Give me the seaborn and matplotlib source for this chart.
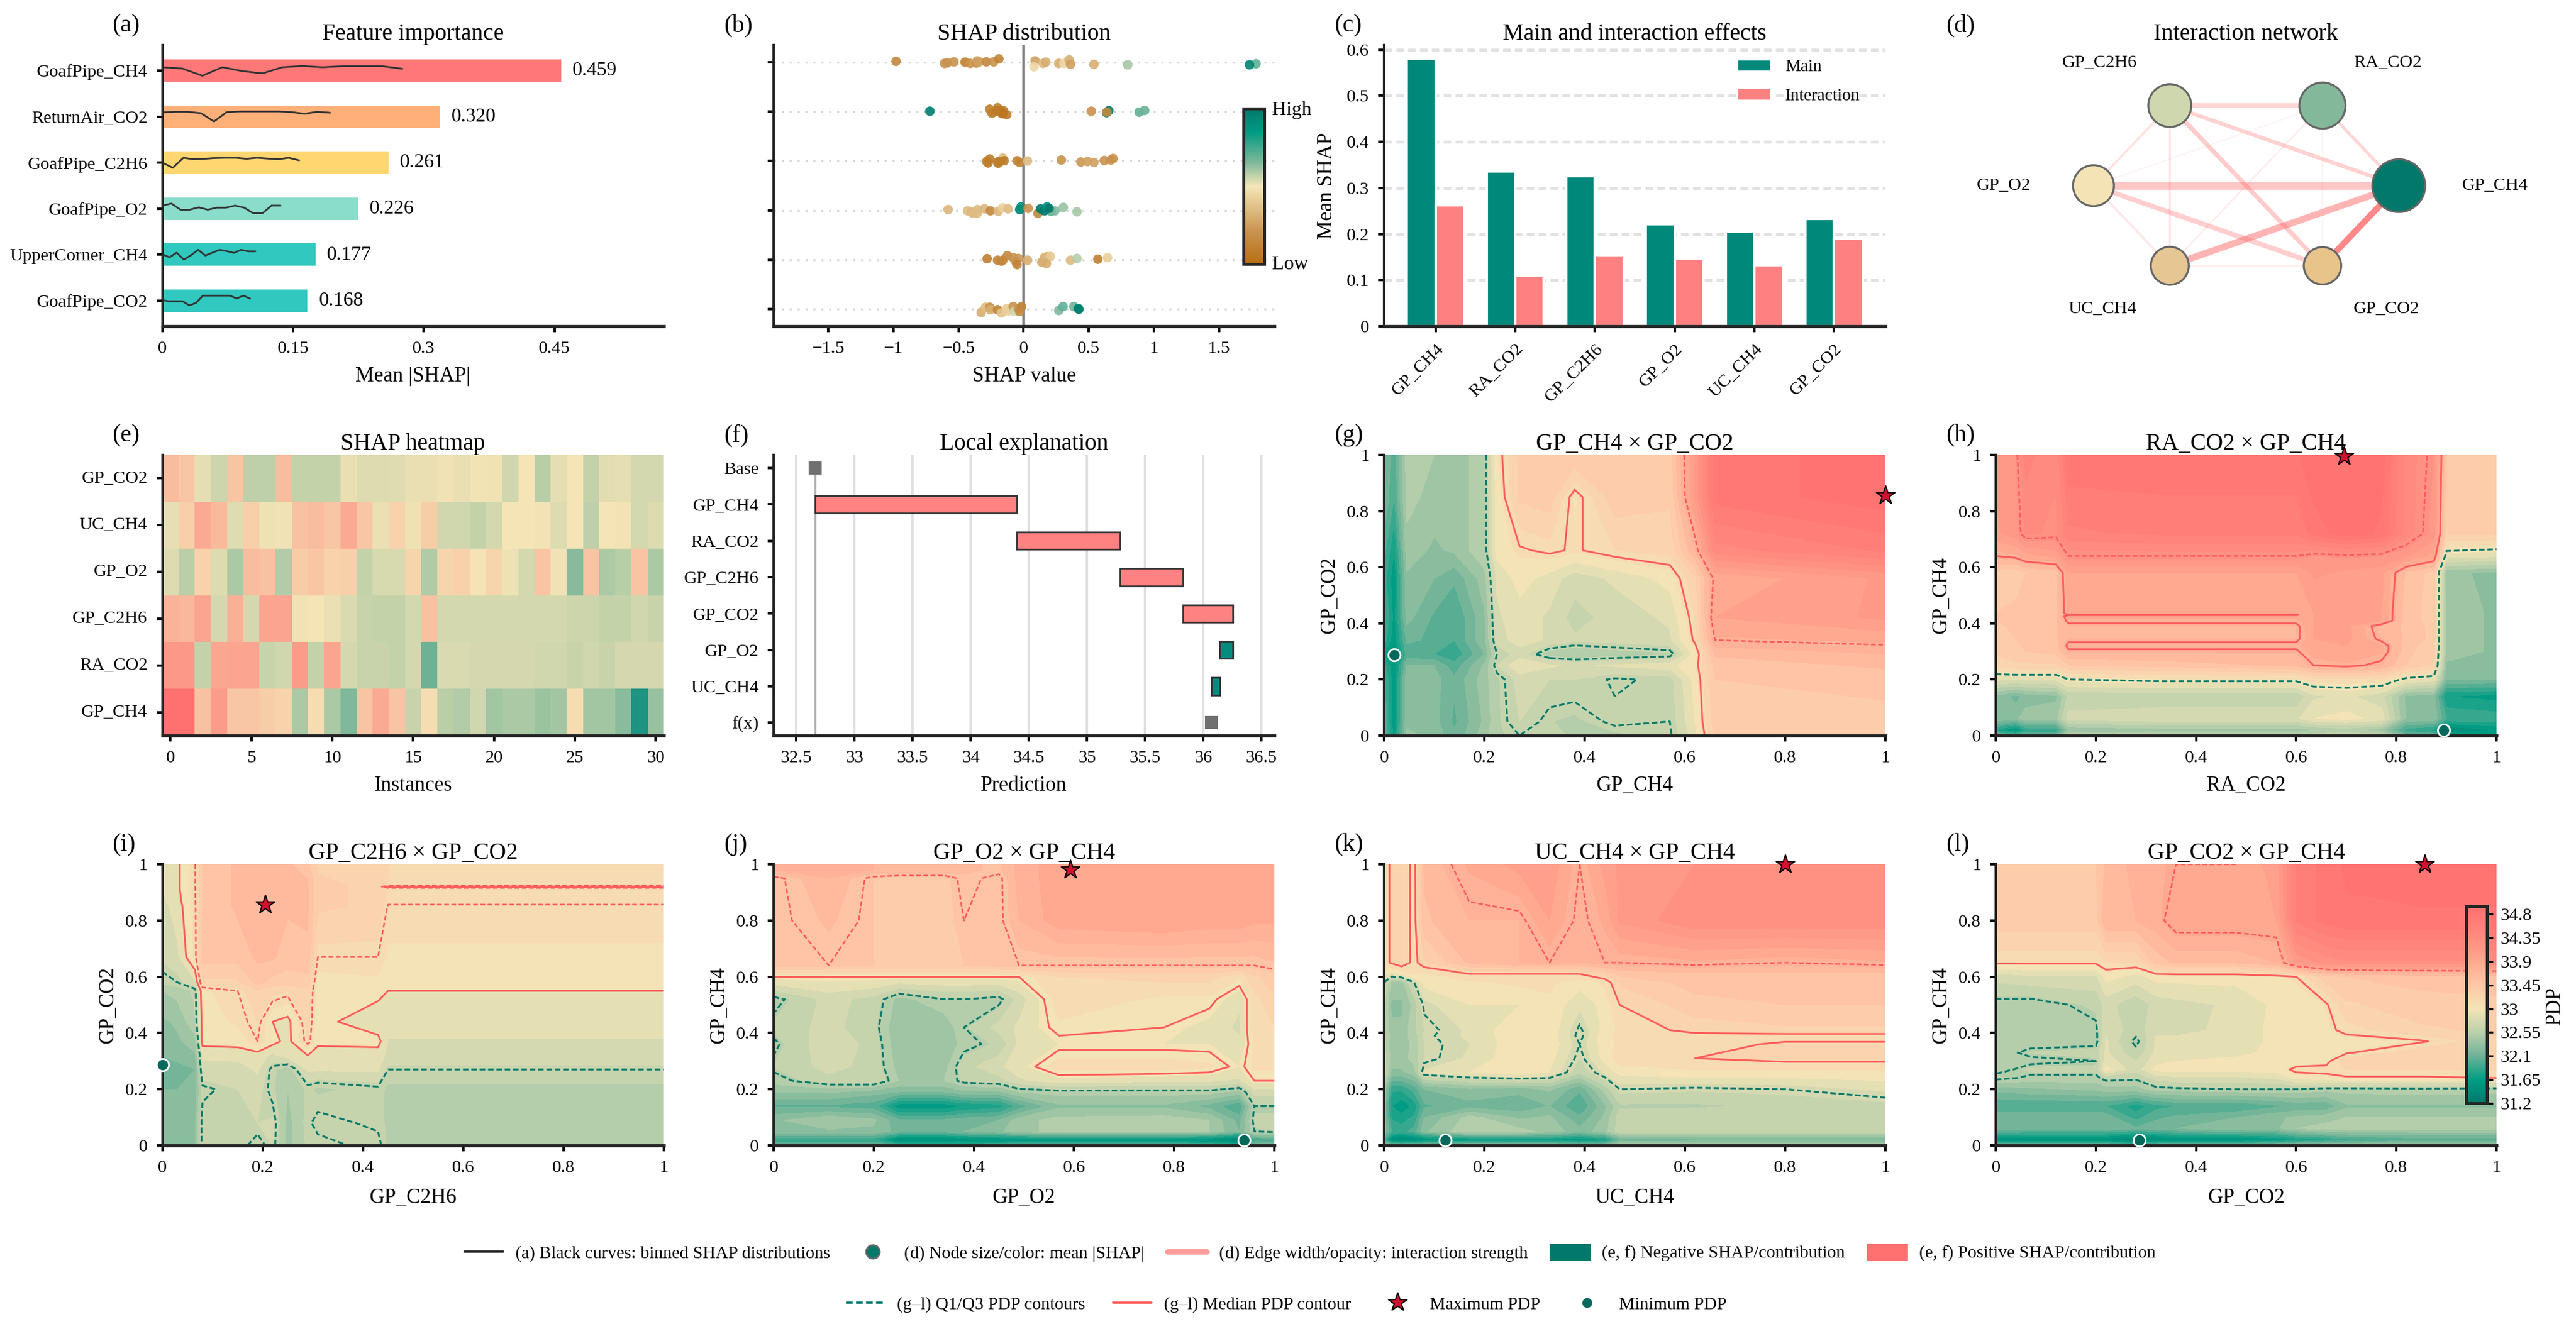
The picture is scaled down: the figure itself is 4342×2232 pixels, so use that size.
import numpy as np
import pandas as pd
import matplotlib
matplotlib.use("Agg")
import matplotlib.pyplot as plt
import seaborn as sns
from matplotlib.colors import LinearSegmentedColormap, Normalize
from matplotlib.cm import ScalarMappable
from matplotlib.lines import Line2D
from matplotlib.patches import Patch

# ---- panel a
full_names = ["GoafPipe_CH4", "ReturnAir_CO2", "GoafPipe_C2H6", "GoafPipe_O2", "UpperCorner_CH4", "GoafPipe_CO2"]
importance = [0.459, 0.320, 0.261, 0.226, 0.177, 0.168]
imp_colors = ["#FF7878", "#FFAF78", "#FFD670", "#8ADCCB", "#30C8BF", "#30C8BF"]
curve_ends = [0.2755, 0.1926, 0.157, 0.1357, 0.1068, 0.1008]
curves = [
    [-.073, -.045, .112, -.073, .011, .061, -.073, -.10, -.073, -.095, -.095, -.095, -.039],
    [-.095, -.106, -.106, -.073, .106, -.10, -.112, -.112, -.112, -.112, -.10, -.061, -.106, -.084],
    [0, .112, -.106, -.073, -.084, -.10, -.106, -.106, -.084, -.106, -.089, -.073, -.106, -.05],
    [-.067, -.112, .022, .022, -.028, .022, -.022, -.022, -.067, -.022, .10, .10, -.067, -.067],
    [-.011, .056, -.045, .106, .011, -.106, .017, -.045, -.106, -.078, -.039, -.106, -.073, -.073],
    [-.011, .011, .011, .011, .10, .045, -.112, -.112, -.112, -.112, -.112, -.05, -.112, -.045],
]

# ---- panel b: shap value, vertical jitter, colour value for each row
shap_x = [
    [-.98, -.607, -.585, -.535, -.45, -.41, -.363, -.356, -.34, -.286, -.23, -.19, .088, .08, .15, .17, .27, .31, .35, .36, .54, .80, 1.785, 1.735],
    [-.72, -.26, -.243, -.2, -.23, -.185, -.17, -.155, -.13, -.21, -.16, .52, .888, .93, .654, .637, .64],
    [-.283, -.26, -.272, -.2, -.16, -.18, -.15, -.195, -.05, -.03, .03, .29, .44, .49, .54, .62, .67, .687],
    [-.58, -.43, -.4, -.355, -.39, -.355, -.3, -.255, -.195, -.16, -.12, -.03, -.02, .035, .21, .24, .305, .41, .11, .13, .16, .18, .195],
    [-.28, -.2, -.17, -.16, -.125, -.08, -.04, -.06, -.05, .03, .14, .16, .18, .205, .175, .36, .41, .57, .645],
    [-.326, -.293, -.26, -.256, -.2, -.17, -.13, -.12, -.08, -.07, -.04, -.015, -.03, .27, .303, .386, .42, .425],
]
shap_dy = [
    [-.02, .02, .01, -.01, -.005, .02, .015, -.03, -.01, -.01, -.01, -.07, -.03, .09, .02, -.005, .02, .02, -.05, .04, .04, .05, .03, .05],
    [-.01, -.05, .03, -.08, .01, -.03, .03, -.02, .06, -.02, .04, -.01, .01, -.025, -.02, .02, .01],
    [.01, -.04, .04, .02, -.06, .01, -.005, .045, -.005, .03, 0, -.02, .02, .01, .03, -.01, -.02, -.05],
    [-.015, .01, .035, -.015, .06, .055, -.03, .01, .02, -.05, -.03, -.015, -.07, -.04, .02, .01, -.06, .03, .06, -.03, .01, -.07, -.04],
    [-.02, .01, .03, .01, -.08, -.04, -.025, .04, .10, .01, .05, -.04, -.06, -.065, .08, .01, -.025, -.01, -.04],
    [.07, -.035, -.035, .015, .015, .08, -.01, .04, -.05, .05, -.01, -.05, .05, .03, -.05, -.05, -.01, .005],
]
shap_c = [
    [.15, .2, .2, .2, .1, .2, .2, .25, .25, .15, .2, .12, .25, .45, .35, .3, .3, .45, .3, .25, .3, .6, .7, .95],
    [.97, .1, .1, .1, .1, .05, .08, .06, .08, .07, .05, .2, .7, .68, 1, .9, .15],
    [.08, .08, .08, .08, .35, .08, .08, .08, .12, .12, .35, .2, .22, .25, .25, .2, .2, .2],
    [.33, .35, .33, .35, .35, .35, .33, .15, .33, .42, .35, .95, .9, .2, .7, .65, .62, .6, .15, 1, 1, .88, 1],
    [.1, .12, .12, .15, .15, .2, .22, .2, .12, .3, .28, .3, .33, .4, .3, .35, .58, .1, .42],
    [.3, .35, .2, .3, .12, .38, .42, .42, .2, .55, .2, .12, .15, .65, .7, .68, .95, .97],
]
shap_stops = ["#B86F14", "#C8924D", "#F5E6B8", "#80B89B", "#009B82", "#00796B"]
shap_pos = [0, .2, .5, .65, .85, 1]

# ---- panel c
short_names = ["GP_CH4", "RA_CO2", "GP_C2H6", "GP_O2", "UC_CH4", "GP_CO2"]
main_eff = [.58, .336, .325, .221, .205, .233]
inter_eff = [.263, .11, .155, .147, .132, .19]

# ---- panel d
net_names = ["GP_CH4", "RA_CO2", "GP_C2H6", "GP_O2", "UC_CH4", "GP_CO2"]
net_angles = [0, 60, 120, 180, 240, 300]
net_importance = [.459, .320, .261, .226, .177, .168]
net_colors = ["#00796B", "#84B89B", "#CFD7AE", "#F4E3B5", "#E6C794", "#E6C48A"]
net_label_x = [1.63, .926, -.96, -1.59, -.94, .92]
net_label_y = [.0, 1.33, 1.33, .0, -1.33, -1.33]
edge_a = [0, 0, 0, 0, 0, 1, 1, 1, 1, 2, 2, 2, 3, 3, 4]
edge_b = [3, 5, 4, 2, 1, 2, 3, 4, 5, 3, 4, 5, 4, 5, 5]
edge_w = [3.1, 2.5, 2.7, 1.6, 1.2, 2.0, .5, .6, .5, .9, .8, 1.8, .9, 2.0, .9]
edge_a_op = [.38, .8, .5, .3, .28, .28, .08, .14, .12, .2, .18, .35, .16, .33, .1]

# ---- panel e
heat_rows = ["GP_CO2", "UC_CH4", "GP_O2", "GP_C2H6", "RA_CO2", "GP_CH4"]
heat_vals = [
    [.35, .25, -.07, -.17, .27, -.22, -.22, .35, -.2, -.2, -.2, -.05, -.1, -.1, -.09, -.05, -.05, -.02, -.05, -.01, -.02, -.15, 0, -.25, -.07, 0, -.2, -.08, -.07, -.14, -.14],
    [-.06, .18, .5, .36, -.09, .17, -.03, -.02, .3, .35, .25, .5, .25, -.04, .15, -.03, .2, -.15, -.15, -.2, -.14, 0, 0, -.01, -.1, 0, -.22, 0, -.01, -.14, -.1],
    [-.1, -.24, .15, -.1, -.3, .35, .3, -.27, .2, .25, .15, .17, -.2, -.12, -.12, .13, -.28, .13, .16, .02, .14, -.03, -.14, .28, -.02, -.45, .28, -.3, -.25, .28, -.3],
    [.42, .38, .55, -.13, .45, -.13, .55, .55, -.02, 0, -.04, -.11, -.18, -.2, -.2, -.14, .3, -.14, -.14, -.14, -.14, -.14, -.14, -.14, -.14, -.17, -.17, -.2, -.2, -.15, -.18],
    [.65, .65, -.2, .52, .55, .55, -.18, -.15, .62, -.2, .55, -.13, -.18, -.18, -.2, -.14, -.55, -.11, -.11, -.13, -.13, -.13, -.13, -.15, -.15, -.18, -.15, -.18, -.13, -.13, -.13],
    [1, 1, .3, .62, .25, .25, .2, .15, -.3, .07, -.3, -.48, .28, .5, .28, -.18, .07, -.24, -.27, -.15, -.33, -.3, -.3, -.36, -.33, .07, -.33, -.33, -.44, -.87, -.38],
]

# ---- panel f
wf_names = ["Base", "GP_CH4", "RA_CO2", "GP_C2H6", "GP_CO2", "GP_O2", "UC_CH4", "f(x)"]
wf_base = 32.66
wf_fx = 36.07
wf_start = [32.66, 34.395, 35.285, 35.826, 36.253, 36.144]
wf_end = [34.395, 35.285, 35.826, 36.253, 36.144, 36.073]

g_x = [0, .02, .045, .1, .14, .2, .225, .27, .33, .38, .46, .57, .62, .66, 1]
g_y = [0, .05, .2, .25, .29, .34, .42, .56, .66, .85, 1]
g_z = [
    [32.1, 31.65, 32.35, 32.3, 32.1, 32.4, 32.55, 32.62, 32.62, 32.55, 32.55, 32.6, 32.9, 33.35, 33.35],
    [32.05, 31.6, 32.3, 32.25, 32.05, 32.35, 32.55, 32.7, 32.58, 32.55, 32.65, 32.62, 32.95, 33.4, 33.4],
    [32.0, 31.6, 32.3, 32.25, 32.1, 32.4, 32.55, 32.75, 32.7, 32.7, 32.6, 32.65, 33.0, 33.45, 33.5],
    [31.9, 31.55, 32.2, 32.2, 32.0, 32.35, 32.7, 32.95, 32.85, 32.8, 32.85, 32.9, 33.05, 33.5, 33.6],
    [31.7, 31.45, 32.0, 31.95, 31.85, 32.2, 32.62, 32.75, 32.5, 32.45, 32.5, 32.55, 33.0, 33.6, 33.7],
    [31.9, 31.6, 32.1, 32.05, 31.95, 32.3, 32.75, 32.9, 32.8, 32.72, 32.75, 32.8, 33.15, 33.8, 33.85],
    [32.0, 31.65, 32.25, 32.05, 31.95, 32.3, 32.8, 32.9, 32.8, 32.65, 32.75, 32.85, 33.2, 33.95, 34.1],
    [31.9, 31.6, 32.3, 32.2, 32.1, 32.4, 32.85, 33.0, 32.9, 32.75, 32.85, 33.0, 33.3, 33.85, 34.1],
    [32.0, 31.7, 32.4, 32.3, 32.35, 32.55, 33.0, 33.1, 33.15, 33.1, 33.2, 33.25, 33.7, 34.4, 34.6],
    [32.2, 31.95, 32.5, 32.4, 32.35, 32.55, 33.0, 33.35, 33.4, 33.05, 33.4, 33.35, 34.1, 34.75, 34.9],
    [32.2, 32.0, 32.5, 32.45, 32.35, 32.55, 33.05, 33.35, 33.35, 33.45, 33.35, 33.4, 34.1, 34.75, 34.9],
]
h_x = [0, .04, .06, .12, .145, .33, .6, .635, .7, .77, .82, .875, .9, 1]
h_y = [0, .02, .06, .14, .2, .25, .3, .32, .345, .39, .41, .425, .43, .435, .58, .64, .72, 1]
h_z = [
    [32.1, 32.0, 32.1, 32.1, 32.55, 32.55, 32.55, 32.65, 32.65, 32.65, 32.1, 32.05, 31.7, 31.7],
    [31.8, 31.55, 31.85, 31.85, 32.35, 32.4, 32.4, 32.45, 32.5, 32.4, 31.9, 31.8, 31.4, 31.6],
    [32.3, 32.3, 32.4, 32.4, 32.75, 32.8, 32.8, 32.95, 33.0, 32.9, 32.3, 32.3, 31.95, 31.9],
    [32.3, 32.15, 32.25, 32.3, 32.6, 32.6, 32.6, 32.8, 32.85, 32.75, 32.3, 32.25, 31.7, 31.65],
    [32.85, 32.85, 32.85, 32.85, 33.0, 33.05, 33.05, 33.15, 33.15, 33.15, 32.95, 32.9, 32.2, 32.2],
    [33.25, 33.3, 33.3, 33.3, 33.45, 33.5, 33.6, 33.75, 33.8, 33.7, 33.45, 33.3, 32.3, 32.25],
    [33.35, 33.4, 33.45, 33.5, 33.72, 33.72, 33.72, 33.9, 33.95, 33.85, 33.5, 33.35, 32.4, 32.3],
    [33.38, 33.42, 33.48, 33.52, 33.8, 33.8, 33.8, 33.9, 33.95, 33.85, 33.5, 33.38, 32.4, 32.3],
    [33.4, 33.45, 33.5, 33.55, 33.7, 33.7, 33.7, 33.95, 34.0, 33.7, 33.55, 33.4, 32.4, 32.3],
    [33.42, 33.48, 33.55, 33.55, 33.7, 33.7, 33.7, 33.95, 34.0, 33.65, 33.55, 33.4, 32.4, 32.3],
    [33.45, 33.5, 33.55, 33.55, 33.8, 33.8, 33.8, 33.95, 34.0, 33.95, 33.5, 33.4, 32.4, 32.3],
    [33.45, 33.5, 33.55, 33.55, 33.85, 33.85, 33.85, 33.95, 34.0, 33.95, 33.5, 33.4, 32.4, 32.3],
    [33.45, 33.5, 33.55, 33.55, 33.72, 33.72, 33.72, 33.95, 34.0, 33.95, 33.5, 33.4, 32.4, 32.3],
    [33.45, 33.5, 33.55, 33.55, 33.85, 33.85, 33.85, 33.95, 34.0, 33.95, 33.5, 33.4, 32.4, 32.3],
    [33.4, 33.35, 33.45, 33.5, 33.95, 33.95, 33.95, 34.1, 34.05, 34.0, 33.55, 33.4, 32.35, 32.3],
    [33.75, 33.8, 33.9, 34.0, 34.25, 34.25, 34.25, 34.2, 34.22, 34.2, 34.1, 33.9, 32.9, 32.85],
    [34.05, 34.15, 34.35, 34.3, 34.55, 34.6, 34.6, 34.75, 34.9, 34.8, 34.4, 34.15, 33.35, 33.35],
    [34.1, 34.2, 34.5, 34.35, 34.8, 34.8, 34.8, 34.95, 34.95, 34.9, 34.4, 34.2, 33.45, 33.45],
]
i_x = [0, .03, .065, .08, .15, .19, .22, .25, .29, .31, .43, .45, 1]
i_y = [0, .08, .2, .27, .32, .37, .44, .55, .58, .67, .85, .87, .915, .92, .925, 1]
i_z = [
    [32.25, 32.25, 32.3, 32.7, 32.7, 32.6, 32.7, 32.4, 32.6, 32.6, 32.7, 32.55, 32.55],
    [32.25, 32.25, 32.3, 32.7, 32.7, 32.7, 32.72, 32.4, 32.62, 32.7, 32.62, 32.55, 32.55],
    [32.2, 32.2, 32.25, 32.62, 32.7, 32.75, 32.6, 32.45, 32.6, 32.55, 32.62, 32.55, 32.55],
    [32.15, 32.15, 32.2, 32.78, 32.75, 32.85, 32.6, 32.5, 32.85, 32.85, 32.85, 32.65, 32.65],
    [32.2, 32.25, 32.3, 32.85, 32.88, 32.88, 32.8, 32.9, 32.95, 32.85, 32.88, 32.8, 32.8],
    [32.3, 32.3, 32.4, 33.0, 33.0, 33.15, 33.0, 32.9, 33.2, 33.0, 33.0, 32.82, 32.82],
    [32.3, 32.35, 32.55, 33.0, 33.1, 33.2, 32.95, 32.9, 33.25, 33.0, 32.85, 32.85, 32.85],
    [32.45, 32.5, 32.6, 33.05, 33.15, 33.3, 33.25, 33.2, 33.3, 33.0, 33.0, 32.95, 32.95],
    [32.6, 32.65, 32.8, 33.3, 33.3, 33.5, 33.4, 33.4, 33.4, 33.02, 33.05, 33.05, 33.05],
    [32.72, 32.8, 33.1, 33.5, 33.5, 33.6, 33.6, 33.5, 33.55, 33.15, 33.15, 33.05, 33.05],
    [32.78, 32.88, 33.12, 33.45, 33.6, 33.7, 33.65, 33.6, 33.6, 33.35, 33.3, 33.14, 33.14],
    [32.8, 32.9, 33.13, 33.45, 33.6, 33.7, 33.65, 33.6, 33.6, 33.35, 33.3, 33.17, 33.17],
    [32.82, 32.92, 33.14, 33.45, 33.6, 33.7, 33.65, 33.6, 33.6, 33.35, 33.3, 33.2, 33.2],
    [32.82, 32.92, 33.14, 33.45, 33.6, 33.7, 33.65, 33.6, 33.6, 33.35, 33.3, 32.9, 32.9],
    [32.82, 32.92, 33.14, 33.45, 33.6, 33.7, 33.65, 33.6, 33.6, 33.35, 33.3, 33.2, 33.2],
    [32.85, 32.92, 33.14, 33.45, 33.6, 33.7, 33.7, 33.6, 33.5, 33.3, 33.25, 33.2, 33.2],
]
j_x = [0, .11, .2, .25, .34, .38, .45, .49, .57, .78, .87, .93, .96, 1]
j_y = [0, .02, .05, .09, .14, .19, .23, .28, .36, .42, .52, .6, .64, .8, .95, .98, 1]
j_z = [
    [32.1, 32.1, 32.1, 31.95, 31.95, 31.95, 32.0, 32.1, 32.1, 32.1, 32.0, 31.9, 32.2, 32.3],
    [31.85, 31.85, 31.85, 31.45, 31.45, 31.5, 31.5, 31.55, 31.55, 31.55, 31.5, 31.3, 31.9, 31.95],
    [32.3, 32.3, 32.3, 32.15, 32.15, 32.2, 32.3, 32.4, 32.5, 32.5, 32.45, 32.2, 32.55, 32.6],
    [32.3, 32.45, 32.35, 32.1, 32.1, 32.15, 32.2, 32.4, 32.5, 32.52, 32.45, 32.15, 32.6, 32.6],
    [32.05, 32.05, 32.0, 31.6, 31.6, 31.7, 31.75, 32.0, 32.3, 32.3, 32.15, 31.95, 32.55, 32.55],
    [32.35, 32.35, 32.25, 32.2, 32.2, 32.3, 32.3, 32.45, 32.5, 32.5, 32.5, 32.4, 32.75, 32.75],
    [32.5, 32.65, 32.7, 32.45, 32.45, 32.6, 32.65, 32.8, 32.9, 32.85, 32.85, 32.8, 33.0, 33.0],
    [32.58, 32.75, 32.65, 32.4, 32.4, 32.65, 32.8, 32.9, 33.15, 33.15, 33.1, 32.95, 33.1, 33.1],
    [32.52, 32.8, 32.65, 32.35, 32.35, 32.5, 32.6, 32.85, 32.95, 32.95, 32.95, 32.85, 33.1, 33.1],
    [32.6, 32.75, 32.6, 32.35, 32.35, 32.55, 32.75, 32.85, 33.05, 33.0, 32.9, 32.8, 33.2, 33.2],
    [32.5, 32.75, 32.65, 32.4, 32.55, 32.55, 32.5, 32.75, 33.15, 33.05, 33.05, 32.85, 33.15, 33.3],
    [33.0, 33.0, 33.0, 33.0, 33.0, 33.0, 33.0, 33.0, 33.2, 33.25, 33.25, 33.1, 33.3, 33.4],
    [33.5, 33.5, 33.45, 33.45, 33.45, 33.45, 33.5, 33.5, 33.5, 33.5, 33.5, 33.5, 33.5, 33.55],
    [33.45, 33.6, 33.45, 33.4, 33.4, 33.5, 33.45, 33.7, 33.9, 33.95, 33.9, 33.9, 33.85, 33.85],
    [33.45, 33.7, 33.45, 33.4, 33.4, 33.55, 33.45, 33.75, 33.9, 33.95, 33.9, 33.9, 33.9, 33.85],
    [33.7, 33.8, 33.7, 33.7, 33.7, 33.6, 33.55, 33.75, 33.9, 33.9, 33.9, 33.9, 33.85, 33.95],
    [33.7, 33.8, 33.7, 33.7, 33.7, 33.6, 33.55, 33.75, 33.9, 33.9, 33.9, 33.9, 33.85, 33.95],
]
k_x = [0, .015, .035, .06, .08, .17, .27, .33, .39, .44, .47, .62, .8, 1]
k_y = [0, .02, .05, .1, .14, .2, .26, .31, .36, .39, .41, .5, .58, .61, .65, .8, 1]
k_z = [
    [32.3, 32.2, 32.2, 32.2, 32.3, 32.3, 32.3, 32.3, 32.2, 32.25, 32.5, 32.5, 32.5, 32.5],
    [32.0, 31.45, 31.4, 31.45, 31.5, 31.6, 31.65, 31.65, 31.6, 31.7, 32.1, 32.15, 32.15, 32.15],
    [32.3, 31.95, 31.9, 32.0, 32.3, 32.55, 32.5, 32.4, 32.25, 32.4, 32.65, 32.65, 32.65, 32.65],
    [32.3, 31.8, 31.75, 31.85, 32.2, 32.5, 32.3, 32.35, 32.1, 32.35, 32.65, 32.7, 32.7, 32.7],
    [32.3, 31.7, 31.6, 31.75, 32.05, 32.15, 32.1, 32.2, 31.95, 32.3, 32.55, 32.55, 32.6, 32.65],
    [32.45, 31.85, 31.85, 32.0, 32.2, 32.3, 32.25, 32.35, 32.1, 32.5, 32.75, 32.72, 32.75, 32.85],
    [32.7, 32.3, 32.3, 32.4, 32.85, 32.95, 33.05, 32.95, 32.6, 32.85, 33.0, 33.05, 33.05, 33.05],
    [32.65, 32.4, 32.4, 32.5, 32.7, 32.85, 33.05, 33.0, 32.7, 33.0, 33.15, 33.2, 33.25, 33.25],
    [32.62, 32.35, 32.35, 32.5, 32.7, 32.82, 33.05, 33.05, 32.75, 33.02, 33.1, 33.15, 33.22, 33.22],
    [32.62, 32.4, 32.4, 32.5, 32.72, 32.85, 33.05, 33.05, 32.7, 33.05, 33.1, 33.15, 33.15, 33.15],
    [32.6, 32.35, 32.35, 32.55, 32.7, 32.85, 33.05, 33.05, 32.72, 33.0, 33.1, 33.25, 33.3, 33.3],
    [32.6, 32.3, 32.3, 32.5, 32.78, 32.95, 32.95, 33.05, 32.85, 33.0, 33.2, 33.4, 33.45, 33.45],
    [32.75, 32.4, 32.4, 32.75, 33.0, 33.05, 33.1, 33.1, 33.0, 33.1, 33.35, 33.5, 33.55, 33.55],
    [33.0, 32.9, 33.0, 33.1, 33.05, 33.2, 33.2, 33.2, 33.2, 33.35, 33.5, 33.55, 33.55, 33.55],
    [33.15, 33.22, 33.3, 33.15, 33.3, 33.6, 33.7, 33.75, 33.7, 33.75, 33.75, 33.8, 33.75, 33.8],
    [33.15, 33.22, 33.3, 33.15, 33.55, 33.7, 33.7, 33.95, 33.7, 33.85, 34.1, 34.3, 34.3, 34.3],
    [33.15, 33.22, 33.3, 33.15, 33.6, 33.85, 34.0, 34.05, 33.75, 34.0, 34.1, 34.2, 34.25, 34.25],
]
l_x = [0, .07, .2, .22, .28, .32, .36, .48, .56, .6, .66, .7, .85, 1]
l_y = [0, .02, .06, .1, .14, .2, .24, .27, .3, .33, .37, .41, .5, .6, .65, .8, 1]
l_z = [
    [32.25, 32.2, 32.2, 32.2, 32.1, 32.2, 32.2, 32.2, 32.3, 32.35, 32.4, 32.4, 32.4, 32.4],
    [31.5, 31.45, 31.45, 31.45, 31.35, 31.4, 31.5, 31.5, 31.6, 31.7, 31.8, 31.9, 32.0, 32.0],
    [32.2, 32.2, 32.2, 32.2, 32.1, 32.15, 32.2, 32.3, 32.3, 32.45, 32.5, 32.5, 32.5, 32.5],
    [32.2, 32.2, 32.2, 32.15, 31.9, 32.05, 32.1, 32.2, 32.3, 32.35, 32.4, 32.45, 32.45, 32.45],
    [31.95, 31.95, 31.95, 31.95, 31.75, 31.9, 31.95, 31.95, 32.05, 32.1, 32.1, 32.3, 32.3, 32.3],
    [32.25, 32.3, 32.35, 32.4, 32.4, 32.5, 32.52, 32.55, 32.55, 32.55, 32.5, 32.5, 32.52, 32.5],
    [32.6, 32.52, 32.52, 32.6, 32.58, 32.75, 32.8, 32.8, 32.85, 33.0, 33.05, 33.08, 33.08, 33.1],
    [32.5, 32.6, 32.6, 33.0, 32.75, 33.0, 33.0, 33.0, 33.0, 33.15, 33.15, 33.2, 33.2, 33.2],
    [32.45, 32.52, 32.55, 32.9, 32.7, 32.9, 32.95, 33.0, 33.0, 33.0, 33.05, 33.3, 33.3, 33.3],
    [32.5, 32.58, 32.62, 32.85, 32.6, 32.85, 32.9, 32.9, 33.0, 33.05, 33.0, 33.08, 33.3, 33.3],
    [32.5, 32.5, 32.5, 32.85, 32.5, 32.85, 32.85, 32.85, 33.0, 33.0, 33.0, 33.02, 33.08, 33.3],
    [32.55, 32.52, 32.52, 32.8, 32.62, 32.8, 32.8, 32.85, 33.0, 33.0, 33.05, 33.15, 33.3, 33.35],
    [32.5, 32.48, 32.6, 32.75, 32.6, 32.75, 32.78, 32.85, 32.98, 33.0, 33.08, 33.3, 33.4, 33.4],
    [32.75, 32.8, 32.8, 33.0, 32.9, 33.0, 33.0, 33.0, 33.05, 33.1, 33.4, 33.45, 33.5, 33.55],
    [33.12, 33.12, 33.12, 33.2, 33.2, 33.5, 33.6, 33.6, 33.7, 34.1, 34.25, 34.3, 34.3, 34.3],
    [33.4, 33.4, 33.4, 33.7, 33.7, 33.78, 33.95, 33.95, 33.95, 34.6, 34.75, 34.8, 34.8, 34.8],
    [33.35, 33.35, 33.45, 33.6, 33.75, 33.8, 33.85, 33.85, 34.0, 34.6, 34.75, 34.85, 34.9, 34.9],
]
pdp_names = [("GP_CH4", "GP_CO2"), ("RA_CO2", "GP_CH4"), ("GP_C2H6", "GP_CO2"), ("GP_O2", "GP_CH4"), ("UC_CH4", "GP_CH4"), ("GP_CO2", "GP_CH4")]
pdp_q1 = [32.62, 33.0, 32.65, 32.55, 32.75, 32.55]
pdp_med = [33.12, 33.75, 32.95, 33.0, 33.2, 33.1]
pdp_q3 = [33.8, 34.25, 33.15, 33.5, 33.75, 33.85]
star_x = [1, .695, .205, .592, .8, .857]
star_y = [.857, .995, .857, .98, 1, 1]
min_x = [.02, .895, 0, .94, .122, .287]
min_y = [.287, .02, .287, .02, .02, .02]
cbar_ticks = [31.2, 31.65, 32.1, 32.55, 33, 33.45, 33.9, 34.35, 34.8]
pdp_stops = [(31.2, "#00796B"), (31.65, "#009E84"), (32.1, "#6DB297"), (32.55, "#BBD0AC"), (33, "#F3E4B6"),
             (33.45, "#FFC8A8"), (33.9, "#FFA890"), (34.35, "#FF8C80"), (34.95, "#FF7070")]

W, H = 4342, 2232
sns.set_style("ticks")
plt.rcParams["font.family"] = ["Liberation Serif", "DejaVu Sans"]
plt.rcParams.update({"font.size": 7, "axes.linewidth": 1.0, "xtick.labelsize": 7.3, "ytick.labelsize": 7.3,
                     "axes.labelsize": 8.5, "axes.titlesize": 9.5, "xtick.major.size": 2.5, "ytick.major.size": 2.5,
                     "xtick.major.width": 1.0, "ytick.major.width": 1.0, "xtick.major.pad": 3.5, "ytick.major.pad": 3.5,
                     "text.color": "black", "axes.labelcolor": "black", "xtick.color": "black", "ytick.color": "black"})

TEAL = "#00897B"
SALMON = "#FF8080"
shap_cmap = LinearSegmentedColormap.from_list("shap", list(zip(shap_pos, shap_stops)))
heat_cmap = LinearSegmentedColormap.from_list("heat", ["#00897B", "#F5E4B6", "#FF7070"])
lo, hi = pdp_stops[0][0], pdp_stops[-1][0]
pdp_cmap = LinearSegmentedColormap.from_list("pdp", [((v - lo) / (hi - lo), c) for v, c in pdp_stops])


def make_ax(l, t, r, b, letter):
    ax = fig.add_axes([l / W, 1 - b / H, (r - l) / W, (b - t) / H])
    sns.despine(ax=ax)
    ax.spines["bottom"].set_linewidth(1.3)
    fig.text((l - 84) / W, 1 - (t - 33) / H, letter, fontsize=10, ha="left", va="center")
    return ax


fig = plt.figure(figsize=(W / 300, H / 300), dpi=300)
LEFT = [273.6, 1304, 2333, 3364]
RIGHT = [1119, 2148, 3178, 4208]
ROWS = [(76, 550), (767, 1240), (1457, 1931)]
TITLE_PAD = 1.7

# (a)
ax = make_ax(LEFT[0], ROWS[0][0], RIGHT[0], ROWS[0][1], "(a)")
df_a = pd.DataFrame({"feature": full_names, "value": importance})
sns.barplot(data=df_a, y="feature", x="value", hue="feature", palette=imp_colors, saturation=1, width=.54,
            dodge=False, legend=False, ax=ax)
for i, (v, curve, end) in enumerate(zip(importance, curves, curve_ends)):
    ax.plot(np.linspace(0, end, len(curve)), i + np.array(curve), color="#333333", lw=.7)
    ax.text(v + .0115, i, f"{v:.3f}", va="center", ha="left", fontsize=8)
ax.set_xlim(0, .5755)
ax.set_ylim(5.554, -.554)
ax.set_xticks([0, .15, .3, .45], ["0", "0.15", "0.3", "0.45"])
ax.set_xlabel("Mean |SHAP|", labelpad=4)
ax.set_ylabel("")
ax.set_title("Feature importance", pad=TITLE_PAD)

# (b)
ax = make_ax(LEFT[1], ROWS[0][0], RIGHT[1], ROWS[0][1], "(b)")
for i in range(6):
    ax.axhline(i, color="#D5D5D5", lw=.8, ls=(0, (1, 3)), zorder=0)
ax.axvline(0, color="#808080", lw=1.1, zorder=1)
df_b = pd.DataFrame({"x": np.concatenate(shap_x),
                     "y": np.concatenate([i + np.array(d) for i, d in enumerate(shap_dy)]),
                     "c": np.concatenate(shap_c)})
sns.scatterplot(data=df_b, x="x", y="y", hue="c", hue_norm=(0, 1), palette=shap_cmap, s=15, alpha=.9,
                linewidth=0, legend=False, ax=ax, zorder=3)
ax.set_xlim(-1.92, 1.926)
ax.set_ylim(5.35, -.35)
ax.set_yticks(range(6), [""] * 6)
ax.set_xticks([-1.5, -1, -.5, 0, .5, 1, 1.5], ["\u22121.5", "\u22121", "\u22120.5", "0", "0.5", "1", "1.5"])
ax.set_xlabel("SHAP value", labelpad=4)
ax.set_ylabel("")
ax.set_title("SHAP distribution", pad=TITLE_PAD)
cax = fig.add_axes([2096 / W, 1 - 444.5 / H, 35 / W, 261.5 / H])
cb = fig.colorbar(ScalarMappable(Normalize(0, 1), shap_cmap), cax=cax)
cb.set_ticks([])
cb.outline.set_linewidth(1.2)
fig.text(2144 / W, 1 - 186 / H, "High", fontsize=8, ha="left", va="center")
fig.text(2144 / W, 1 - 446 / H, "Low", fontsize=8, ha="left", va="center")

# (c)
ax = make_ax(LEFT[2], ROWS[0][0], RIGHT[2], ROWS[0][1], "(c)")
df_c = pd.DataFrame({"feature": short_names * 2, "value": main_eff + inter_eff,
                     "kind": ["Main"] * 6 + ["Interaction"] * 6})
sns.barplot(data=df_c, x="feature", y="value", hue="kind", palette=[TEAL, SALMON], saturation=1, width=.72,
            gap=0, ax=ax)
ax.set_axisbelow(True)
ax.yaxis.grid(True, color="#E2E2E2", lw=1.2, ls=(0, (2.5, 1.5)))
ax.set_xlim(-.646, 5.644)
ax.set_ylim(0, .61)
ax.set_yticks([0, .1, .2, .3, .4, .5, .6], ["0", "0.1", "0.2", "0.3", "0.4", "0.5", "0.6"])
ax.set_xticks(range(6))
ax.set_xticklabels(short_names, rotation=45, ha="right", rotation_mode="anchor")
ax.set_xlabel("")
ax.set_ylabel("Mean SHAP", labelpad=4)
ax.set_title("Main and interaction effects", pad=TITLE_PAD)
ax.legend(title=None, frameon=False, loc="upper left", bbox_to_anchor=(.69, .975), fontsize=7, handlelength=2,
          handleheight=.75, labelspacing=.75, handletextpad=.8, borderaxespad=0)

# (d)
ax = fig.add_axes([LEFT[3] / W, 1 - ROWS[0][1] / H, (RIGHT[3] - LEFT[3]) / W, (ROWS[0][1] - ROWS[0][0]) / H])
fig.text((LEFT[3] - 84) / W, 1 - (ROWS[0][0] - 33) / H, "(d)", fontsize=10, ha="left", va="center")
node_x = np.cos(np.radians(net_angles))
node_y = np.sin(np.radians(net_angles))
for a, b, w, op in zip(edge_a, edge_b, edge_w, edge_a_op):
    ax.plot([node_x[a], node_x[b]], [node_y[a], node_y[b]], color="#FF6B6B", lw=w, alpha=op,
            solid_capstyle="butt", zorder=1)
sns.scatterplot(x=node_x, y=node_y, hue=net_names, palette=net_colors,
                size=net_importance, sizes={v: 98 + 780 * v for v in net_importance},
                edgecolor="#666666", linewidth=.8, legend=False, ax=ax, zorder=2)
for name, lx, ly in zip(net_names, net_label_x, net_label_y):
    ax.text(lx, ly, name, ha="center", va="center", fontsize=7.3)
ax.set_xlim(-1.64, 1.64)
ax.set_ylim(-1.52, 1.52)
ax.set_title("Interaction network", pad=TITLE_PAD)
ax.set_xticks([])
ax.set_yticks([])
ax.set_xlabel("")
ax.set_ylabel("")
sns.despine(ax=ax, left=True, bottom=True)

# (e)
ax = make_ax(LEFT[0], ROWS[1][0], RIGHT[0], ROWS[1][1], "(e)")
sns.heatmap(np.array(heat_vals), cmap=heat_cmap, vmin=-1, vmax=1, cbar=False, ax=ax, linewidths=0, rasterized=True)
sns.despine(ax=ax)
ax.spines["left"].set_visible(True)
ax.spines["bottom"].set_visible(True)
ax.set_xticks(np.arange(0, 31, 5) + .5, range(0, 31, 5), rotation=0)
ax.set_yticks(np.arange(6) + .5, heat_rows, rotation=0)
ax.set_xlabel("Instances", labelpad=4)
ax.set_title("SHAP heatmap", pad=TITLE_PAD)

# (f)
ax = make_ax(LEFT[1], ROWS[1][0], RIGHT[1], ROWS[1][1], "(f)")
ax.set_axisbelow(True)
ax.xaxis.grid(True, color="#E0E0E0", lw=1.0)
ax.plot([wf_base, wf_base], [0, 7.353], color="#B0B0B0", lw=.8, zorder=1)
for i, (s, e) in enumerate(zip(wf_start, wf_end)):
    ax.barh(i + 1, e - s, left=s, height=.48, color=SALMON if e > s else TEAL, edgecolor="#333333", lw=.7,
            zorder=2, alpha=.98)
sns.scatterplot(x=[wf_base, wf_fx], y=[0, 7], color="#707070", marker="s", s=28, linewidth=0, ax=ax, zorder=3)
ax.set_xlim(32.305, 36.612)
ax.set_ylim(7.353, -.36)
ax.set_yticks(range(8), wf_names)
ax.set_xticks([32.5, 33, 33.5, 34, 34.5, 35, 35.5, 36, 36.5], ["32.5", "33", "33.5", "34", "34.5", "35", "35.5", "36", "36.5"])
ax.set_xlabel("Prediction", labelpad=4)
ax.set_title("Local explanation", pad=TITLE_PAD)

# (g)-(l)
fields = [(g_x, g_y, g_z), (h_x, h_y, h_z), (i_x, i_y, i_z), (j_x, j_y, j_z), (k_x, k_y, k_z), (l_x, l_y, l_z)]
slots = [(2, 1), (3, 1), (0, 2), (1, 2), (2, 2), (3, 2)]
letters = ["(g)", "(h)", "(i)", "(j)", "(k)", "(l)"]
fill_levels = np.linspace(31.2, 34.95, 31)
unit_ticks = [0, .2, .4, .6, .8, 1]
unit_labels = ["0", "0.2", "0.4", "0.6", "0.8", "1"]
for n, ((xs, ys, zs), (col, row)) in enumerate(zip(fields, slots)):
    ax = make_ax(LEFT[col], ROWS[row][0], RIGHT[col], ROWS[row][1], letters[n])
    Z = np.array(zs)
    ax.contourf(xs, ys, Z, levels=fill_levels, cmap=pdp_cmap, vmin=lo, vmax=hi, extend="both", antialiased=False)
    ax.contour(xs, ys, Z, levels=[pdp_q1[n]], colors="#00796B", linewidths=.75, linestyles=[(0, (3, 1.5))])
    ax.contour(xs, ys, Z, levels=[pdp_med[n]], colors="#FF5A5A", linewidths=.7, linestyles="solid")
    ax.contour(xs, ys, Z, levels=[pdp_q3[n]], colors="#FF5A5A", linewidths=.65, linestyles=[(0, (3, 1.5))])
    ax.scatter([star_x[n]], [star_y[n]], marker="*", s=62, color="#D0122E", edgecolor="black", linewidth=.5,
               clip_on=False, zorder=6)
    ax.scatter([min_x[n]], [min_y[n]], marker="o", s=24, color="#00695C", edgecolor="white", linewidth=.7,
               clip_on=False, zorder=6)
    ax.set_xlim(0, 1)
    ax.set_ylim(0, 1)
    ax.set_xticks(unit_ticks, unit_labels)
    ax.set_yticks(unit_ticks, unit_labels)
    ax.set_xlabel(pdp_names[n][0], labelpad=5 if row == 2 else 4)
    ax.set_ylabel(pdp_names[n][1], labelpad=3)
    ax.set_title(f"{pdp_names[n][0]} \u00d7 {pdp_names[n][1]}", pad=TITLE_PAD)

cax = fig.add_axes([4157 / W, 1 - 1860 / H, 34.5 / W, 332 / H])
cb = fig.colorbar(ScalarMappable(Normalize(lo, hi), pdp_cmap), cax=cax)
cb.set_ticks(cbar_ticks, labels=["31.2", "31.65", "32.1", "32.55", "33", "33.45", "33.9", "34.35", "34.8"])
cb.ax.tick_params(labelsize=7.3, length=2.5, width=.8, pad=3)
cb.outline.set_linewidth(1.2)
fig.text(4306 / W, 1 - 1696 / H, "PDP", rotation=90, fontsize=8.5, ha="center", va="center")

# shared legend
row_one = [
    (Line2D([], [], color="#222222", lw=.9), "(a) Black curves: binned SHAP distributions"),
    (Line2D([], [], color="none", marker="o", ms=5.5, mfc="#00796B", mec="#666666", mew=.7), "(d) Node size/color: mean |SHAP|"),
    (Line2D([], [], color="#FF9A9A", lw=2.2), "(d) Edge width/opacity: interaction strength"),
    (Patch(color="#00796B"), "(e, f) Negative SHAP/contribution"),
    (Patch(color="#FF7070"), "(e, f) Positive SHAP/contribution"),
]
row_two = [
    (Line2D([], [], color="#00796B", lw=.9, ls=(0, (3, 1.5))), "(g\u2013l) Q1/Q3 PDP contours"),
    (Line2D([], [], color="#FF5A5A", lw=.9), "(g\u2013l) Median PDP contour"),
    (Line2D([], [], color="none", marker="*", ms=8, mfc="#D0122E", mec="black", mew=.5), "Maximum PDP"),
    (Line2D([], [], color="none", marker="o", ms=4.5, mfc="#00695C", mec="white", mew=.5), "Minimum PDP"),
]
for items, cx, cy, ncol, gap in [(row_one, 2208, 2113, 5, 1.3), (row_two, 2168, 2199, 4, 1.55)]:
    fig.legend([h for h, _ in items], [t for _, t in items], loc="center", bbox_to_anchor=(cx / W, 1 - cy / H),
               ncol=ncol, frameon=False, fontsize=7.15, handlelength=2.2, handletextpad=.7, columnspacing=gap,
               handleheight=.9, borderpad=0, borderaxespad=0)

fig.savefig("out.png", dpi=300)
